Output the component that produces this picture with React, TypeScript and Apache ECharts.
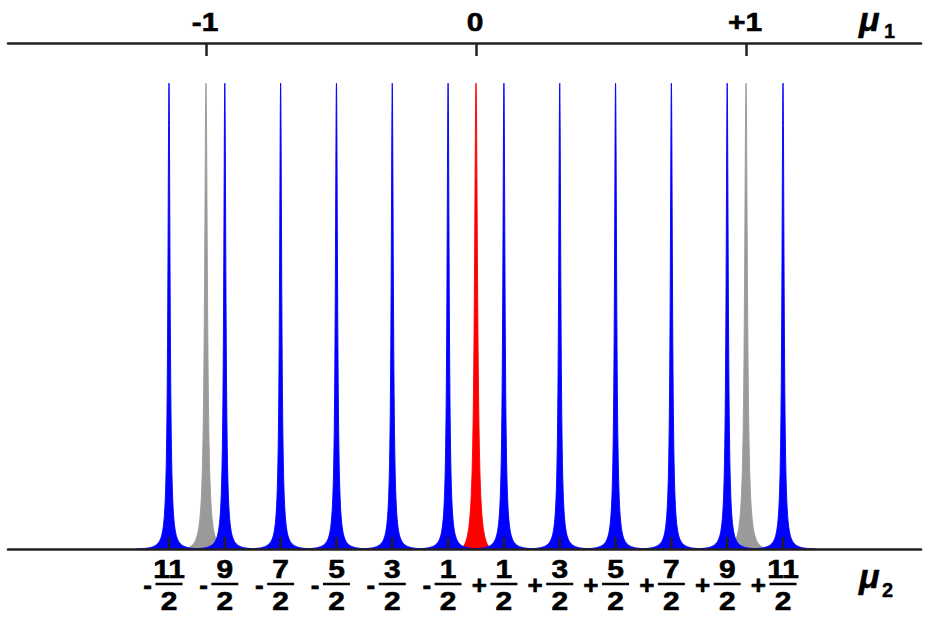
import React, { useEffect, useRef } from "react";
import * as echarts from "echarts";

// μ2 (spin 11/2) lines: positions in μ2 units
const mu2Positions = [-5.5, -4.5, -3.5, -2.5, -1.5, -0.5, 0.5, 1.5, 2.5, 3.5, 4.5, 5.5];
const mu2Heights = [1, 1, 1, 1, 1, 1, 1, 1, 1, 1, 1, 1];
const mu2Signs = ["-", "-", "-", "-", "-", "-", "+", "+", "+", "+", "+", "+"];
const mu2Numerators = ["11", "9", "7", "5", "3", "1", "1", "3", "5", "7", "9", "11"];
const mu2Denominator = "2";
const mu2Width = 0.0233;

// μ1 (spin 1) lines: positions in μ1 units
const mu1Positions = [-1, 0, 1];
const mu1Heights = [1, 1, 1];
const mu1Widths = [0.0063, 0.0068, 0.0063];
const mu1ColorIndex = [0, 1, 0];
const mu1TickLabels = ["-1", "0", "+1"];

const COLORS = ["#9a9a9a", "#ff0000", "#0000ff"];
const SPANS = [12, 8, 25];
const AXIS_COLOR = "#231f20";
const FONT = "Liberation Sans";

function peakItem(params: any, api: any) {
  const c = api.value(0);
  const h = api.value(1);
  const g = api.value(2);
  const k = api.value(3);
  const color = COLORS[k];
  const span = SPANS[k];
  const floor = 1 / (1 + span * span);
  const N = 80;
  const pts: number[][] = [];
  pts.push(api.coord([c - span * g, 0]));
  for (let i = -N; i <= N; i++) {
    const t = span * Math.sign(i) * Math.pow(Math.abs(i) / N, 2);
    const v = (1 / (1 + t * t) - floor) / (1 - floor);
    pts.push(api.coord([c + t * g, h * v]));
  }
  pts.push(api.coord([c + span * g, 0]));
  return {
    type: "polygon",
    shape: { points: pts },
    style: { fill: color, stroke: color, lineWidth: 0.9 },
  };
}

export default function App() {
  const ref = useRef<HTMLDivElement>(null);
  useEffect(() => {
    if (!ref.current) return;
    const chart = echarts.init(ref.current, undefined, { renderer: "svg" });
    const textStyle = {
      fill: "#000",
      stroke: "#000",
      lineWidth: 0.6,
      fontSize: 26,
      fontWeight: "bold",
      fontFamily: FONT,
    };
    const muStyle = {
      fill: "#000",
      stroke: "#000",
      lineWidth: 0.6,
      fontSize: 34,
      fontStyle: "italic",
      fontWeight: "bold",
      fontFamily: FONT,
      align: "left",
      verticalAlign: "middle",
    };
    const subStyle = {
      fill: "#000",
      stroke: "#000",
      lineWidth: 0.4,
      fontSize: 20,
      fontWeight: "bold",
      fontFamily: FONT,
      align: "left",
      verticalAlign: "middle",
    };
    const SX = 1.15;
    chart.setOption({
      animation: false,
      backgroundColor: "#ffffff",
      grid: { left: 8, right: 8, top: 43, bottom: 68 },
      xAxis: [
        {
          type: "value",
          position: "bottom",
          min: -8.384,
          max: 7.972,
          z: 10,
          axisLine: { show: true, onZero: false, lineStyle: { color: AXIS_COLOR, width: 2.5 } },
          axisTick: { show: false },
          axisLabel: { show: false },
          splitLine: { show: false },
        },
        {
          type: "value",
          position: "top",
          min: -1.7333,
          max: 1.6481,
          z: 10,
          axisLine: { show: true, onZero: false, lineStyle: { color: AXIS_COLOR, width: 2.5 } },
          axisTick: {
            show: true,
            inside: true,
            length: 13,
            customValues: mu1Positions,
            lineStyle: { color: AXIS_COLOR, width: 2.5 },
          },
          axisLabel: { show: false },
          splitLine: { show: false },
        },
      ],
      yAxis: { type: "value", min: 0, max: 1.086, show: false },
      graphic: [
        { type: "text", x: 859, y: 19, style: { ...muStyle, text: "μ" } },
        { type: "text", x: 884, y: 31, style: { ...subStyle, text: "1" } },
        { type: "text", x: 859, y: 576, style: { ...muStyle, text: "μ" } },
        { type: "text", x: 882, y: 590, style: { ...subStyle, text: "2" } },
      ],
      series: [
        {
          type: "custom",
          name: "μ1",
          xAxisIndex: 1,
          yAxisIndex: 0,
          z: 1,
          renderItem: peakItem,
          data: mu1Positions.map((p, i) => [p, mu1Heights[i], mu1Widths[i], mu1ColorIndex[i]]),
        },
        {
          type: "custom",
          name: "μ2",
          xAxisIndex: 0,
          yAxisIndex: 0,
          z: 2,
          renderItem: peakItem,
          data: mu2Positions.map((p, i) => [p, mu2Heights[i], mu2Width, 2]),
        },
        {
          type: "custom",
          name: "μ1 labels",
          xAxisIndex: 1,
          yAxisIndex: 0,
          z: 12,
          clip: false,
          silent: true,
          renderItem: (params: any, api: any) => {
            const i = api.value(1);
            const p = api.coord([api.value(0), 0]);
            const top = params.coordSys.y;
            return {
              type: "text",
              x: p[0] - 1,
              y: top - 21,
              scaleX: SX,
              style: { ...textStyle, text: mu1TickLabels[i], align: "center", verticalAlign: "middle" },
            };
          },
          data: mu1Positions.map((p, i) => [p, i]),
        },
        {
          type: "custom",
          name: "μ2 labels",
          xAxisIndex: 0,
          yAxisIndex: 0,
          z: 12,
          clip: false,
          silent: true,
          renderItem: (params: any, api: any) => {
            const i = api.value(2);
            const p = api.coord([api.value(0), 0]);
            const x = p[0];
            const y = p[1];
            return {
              type: "group",
              children: [
                {
                  type: "line",
                  shape: { x1: x, y1: y, x2: x, y2: y - 12 },
                  style: { stroke: AXIS_COLOR, lineWidth: 2.5 },
                },
                {
                  type: "text",
                  x,
                  y: y + 20,
                  scaleX: SX,
                  style: { ...textStyle, text: mu2Numerators[i], align: "center", verticalAlign: "middle" },
                },
                {
                  type: "line",
                  shape: { x1: x - 13.5, y1: y + 35, x2: x + 13.5, y2: y + 35 },
                  style: { stroke: "#000", lineWidth: 2.5 },
                },
                {
                  type: "text",
                  x,
                  y: y + 52,
                  scaleX: SX,
                  style: { ...textStyle, text: mu2Denominator, align: "center", verticalAlign: "middle" },
                },
                {
                  type: "text",
                  x: x - 17,
                  y: y + 36,
                  style: { ...textStyle, text: mu2Signs[i], align: "right", verticalAlign: "middle" },
                },
              ],
            };
          },
          data: mu2Positions.map((p, i) => [p, 0, i]),
        },
      ],
    });
    return () => chart.dispose();
  }, []);
  return (
    <div
      ref={ref}
      style={{ position: "fixed", left: 0, top: 0, width: 929, height: 617, background: "#fff" }}
    />
  );
}
